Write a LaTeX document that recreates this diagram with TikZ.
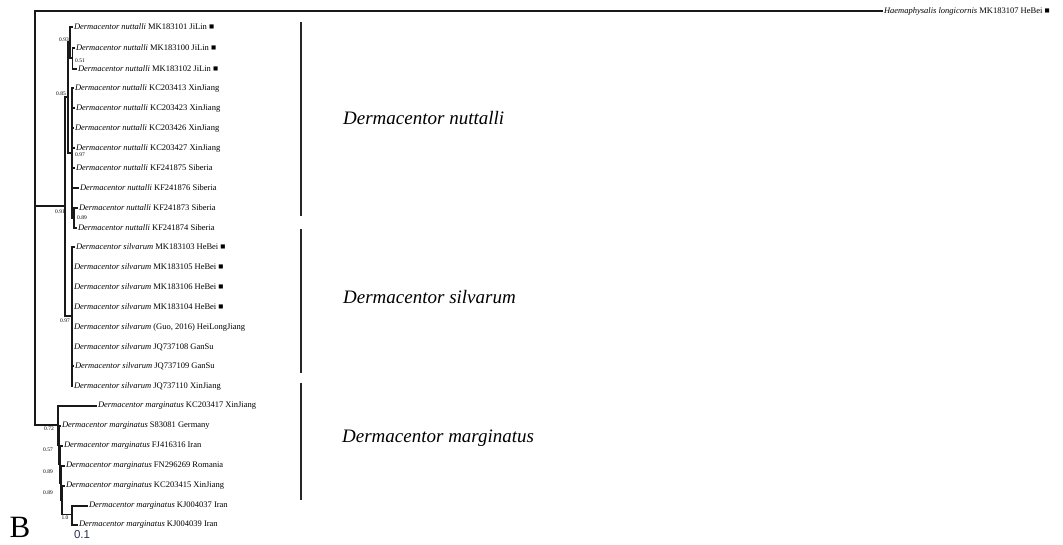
\documentclass[tikz,border=0pt]{standalone}
\usepackage{fontspec}
\setmainfont{Liberation Serif}
\setsansfont{Liberation Sans}
\usetikzlibrary{positioning}

\newcommand{\taxlab}[2]{\textit{#1} #2}
\newcommand{\sqmark}{■}

\begin{document}
\begin{tikzpicture}
  [x=1pt, y=-1pt,
   branch/.style={draw=black!90, line width=1.4pt},
   tip/.style={anchor=west, inner sep=0.8pt, font=\fontsize{8.5}{10}\selectfont},
   supp/.style={inner sep=0pt, font=\fontsize{5.5}{6}\selectfont},
   cladebar/.style={draw=black!85, line width=1.2pt},
   cladename/.style={anchor=west, inner sep=0pt, font=\fontsize{19}{22}\selectfont\itshape}]

\useasboundingbox (0,0) rectangle (1063,544);

% inner nodes
\coordinate (R) at (35,206);
\coordinate (NS) at (65,206);
\coordinate (NU) at (68,97);
\coordinate (J) at (70,42);
\coordinate (J2) at (72.5,58);
\coordinate (K) at (72,153);
\coordinate (S) at (74,218);
\coordinate (SI) at (72,316);
\coordinate (M1) at (58,425);
\coordinate (M2) at (59,445);
\coordinate (M3) at (60,464);
\coordinate (M4) at (61,483);
\coordinate (M5) at (62,500);
\coordinate (M6) at (72,514.5);

% tips
\node[tip] (H) at (883,11) {\taxlab{Haemaphysalis longicornis}{MK183107 HeBei \sqmark}};
\node[tip] (nu1) at (73,27) {\taxlab{Dermacentor nuttalli}{MK183101 JiLin \sqmark}};
\node[tip] (nu2) at (75,48) {\taxlab{Dermacentor nuttalli}{MK183100 JiLin \sqmark}};
\node[tip] (nu3) at (77,69) {\taxlab{Dermacentor nuttalli}{MK183102 JiLin \sqmark}};
\node[tip] (nu4) at (74,88) {\taxlab{Dermacentor nuttalli}{KC203413 XinJiang}};
\node[tip] (nu5) at (75,108) {\taxlab{Dermacentor nuttalli}{KC203423 XinJiang}};
\node[tip] (nu6) at (74,128) {\taxlab{Dermacentor nuttalli}{KC203426 XinJiang}};
\node[tip] (nu7) at (75,148) {\taxlab{Dermacentor nuttalli}{KC203427 XinJiang}};
\node[tip] (nu8) at (75,168) {\taxlab{Dermacentor nuttalli}{KF241875 Siberia}};
\node[tip] (nu9) at (79,188) {\taxlab{Dermacentor nuttalli}{KF241876 Siberia}};
\node[tip] (nu10) at (78,208) {\taxlab{Dermacentor nuttalli}{KF241873 Siberia}};
\node[tip] (nu11) at (77,228) {\taxlab{Dermacentor nuttalli}{KF241874 Siberia}};
\node[tip] (si1) at (75,247) {\taxlab{Dermacentor silvarum}{MK183103 HeBei \sqmark}};
\node[tip] (si2) at (73,267) {\taxlab{Dermacentor silvarum}{MK183105 HeBei \sqmark}};
\node[tip] (si3) at (73,287) {\taxlab{Dermacentor silvarum}{MK183106 HeBei \sqmark}};
\node[tip] (si4) at (73,307) {\taxlab{Dermacentor silvarum}{MK183104 HeBei \sqmark}};
\node[tip] (si5) at (73,327) {\taxlab{Dermacentor silvarum}{(Guo, 2016) HeiLongJiang}};
\node[tip] (si6) at (73,347) {\taxlab{Dermacentor silvarum}{JQ737108 GanSu}};
\node[tip] (si7) at (74,366) {\taxlab{Dermacentor silvarum}{JQ737109 GanSu}};
\node[tip] (si8) at (73,386) {\taxlab{Dermacentor silvarum}{JQ737110 XinJiang}};
\node[tip] (ma1) at (97,406) {\taxlab{Dermacentor marginatus}{KC203417 XinJiang}};
\node[tip] (ma2) at (61,426) {\taxlab{Dermacentor marginatus}{S83081 Germany}};
\node[tip] (ma3) at (63,446) {\taxlab{Dermacentor marginatus}{FJ416316 Iran}};
\node[tip] (ma4) at (65,466) {\taxlab{Dermacentor marginatus}{FN296269 Romania}};
\node[tip] (ma5) at (65,486) {\taxlab{Dermacentor marginatus}{KC203415 XinJiang}};
\node[tip] (ma6) at (88,506) {\taxlab{Dermacentor marginatus}{KJ004037 Iran}};
\node[tip] (ma7) at (78,525) {\taxlab{Dermacentor marginatus}{KJ004039 Iran}};

% branches
\draw[branch] (R) |- (H.west);
\draw[branch] (R) -- (NS);
\draw[branch] (R) |- (M1);
\draw[branch] (NS) |- (NU);
\draw[branch] (NS) |- (SI);
\draw[branch] (NU) |- (J);
\draw[branch] (NU) |- (K);
\draw[branch] (J) |- (nu1.west);
\draw[branch] (J) |- (J2);
\foreach \c in {nu2,nu3} \draw[branch] (J2) |- (\c.west);
\foreach \c in {nu4,nu5,nu6,nu7,nu8,nu9} \draw[branch] (K) |- (\c.west);
\draw[branch] (K) |- (S);
\foreach \c in {nu10,nu11} \draw[branch] (S) |- (\c.west);
\foreach \c in {si1,si2,si3,si4,si5,si6,si7,si8} \draw[branch] (SI) |- (\c.west);
\draw[branch] (M1) |- (ma1.west);
\draw[branch] (M1) |- (M2);
\draw[branch] (M2) |- (ma2.west);
\draw[branch] (M2) |- (M3);
\draw[branch] (M3) |- (ma3.west);
\draw[branch] (M3) |- (M4);
\draw[branch] (M4) |- (ma4.west);
\draw[branch] (M4) |- (M5);
\draw[branch] (M5) |- (ma5.west);
\draw[branch] (M5) |- (M6);
\foreach \c in {ma6,ma7} \draw[branch] (M6) |- (\c.west);

% support values
\node[supp] (b1) at (64,40) {0.93};
\node[supp] (b2) at (80,61) {0.51};
\node[supp] (b3) at (61,94) {0.85};
\node[supp] (b4) at (80,155) {0.97};
\node[supp] (b5) at (82,218) {0.89};
\node[supp] (b6) at (60,212) {0.91};
\node[supp] (b7) at (65,321) {0.97};
\node[supp] (b8) at (49,429) {0.72};
\node[supp] (b9) at (48,450) {0.57};
\node[supp] (b10) at (48,472) {0.89};
\node[supp] (b11) at (48,493) {0.89};
\node[supp] (b12) at (65,518) {1.0};

% clade bars and names
\draw[cladebar] (301,22) -- (301,216);
\draw[cladebar] (301,229) -- (301,373);
\draw[cladebar] (301,383) -- (301,500);
\node[cladename] (cn1) at (343,118) {Dermacentor nuttalli};
\node[cladename] (cn2) at (343,297) {Dermacentor silvarum};
\node[cladename] (cn3) at (342,438) {Dermacentor marginatus};

\node[inner sep=0pt, font=\fontsize{31}{33}\selectfont] (pan) at (20,527) {B};
\node[inner sep=0pt, font=\sffamily\fontsize{11.5}{12}\selectfont, text={rgb,255:red,40;green,50;blue,80}] (scl) at (82,535) {0.1};
\end{tikzpicture}
\end{document}
